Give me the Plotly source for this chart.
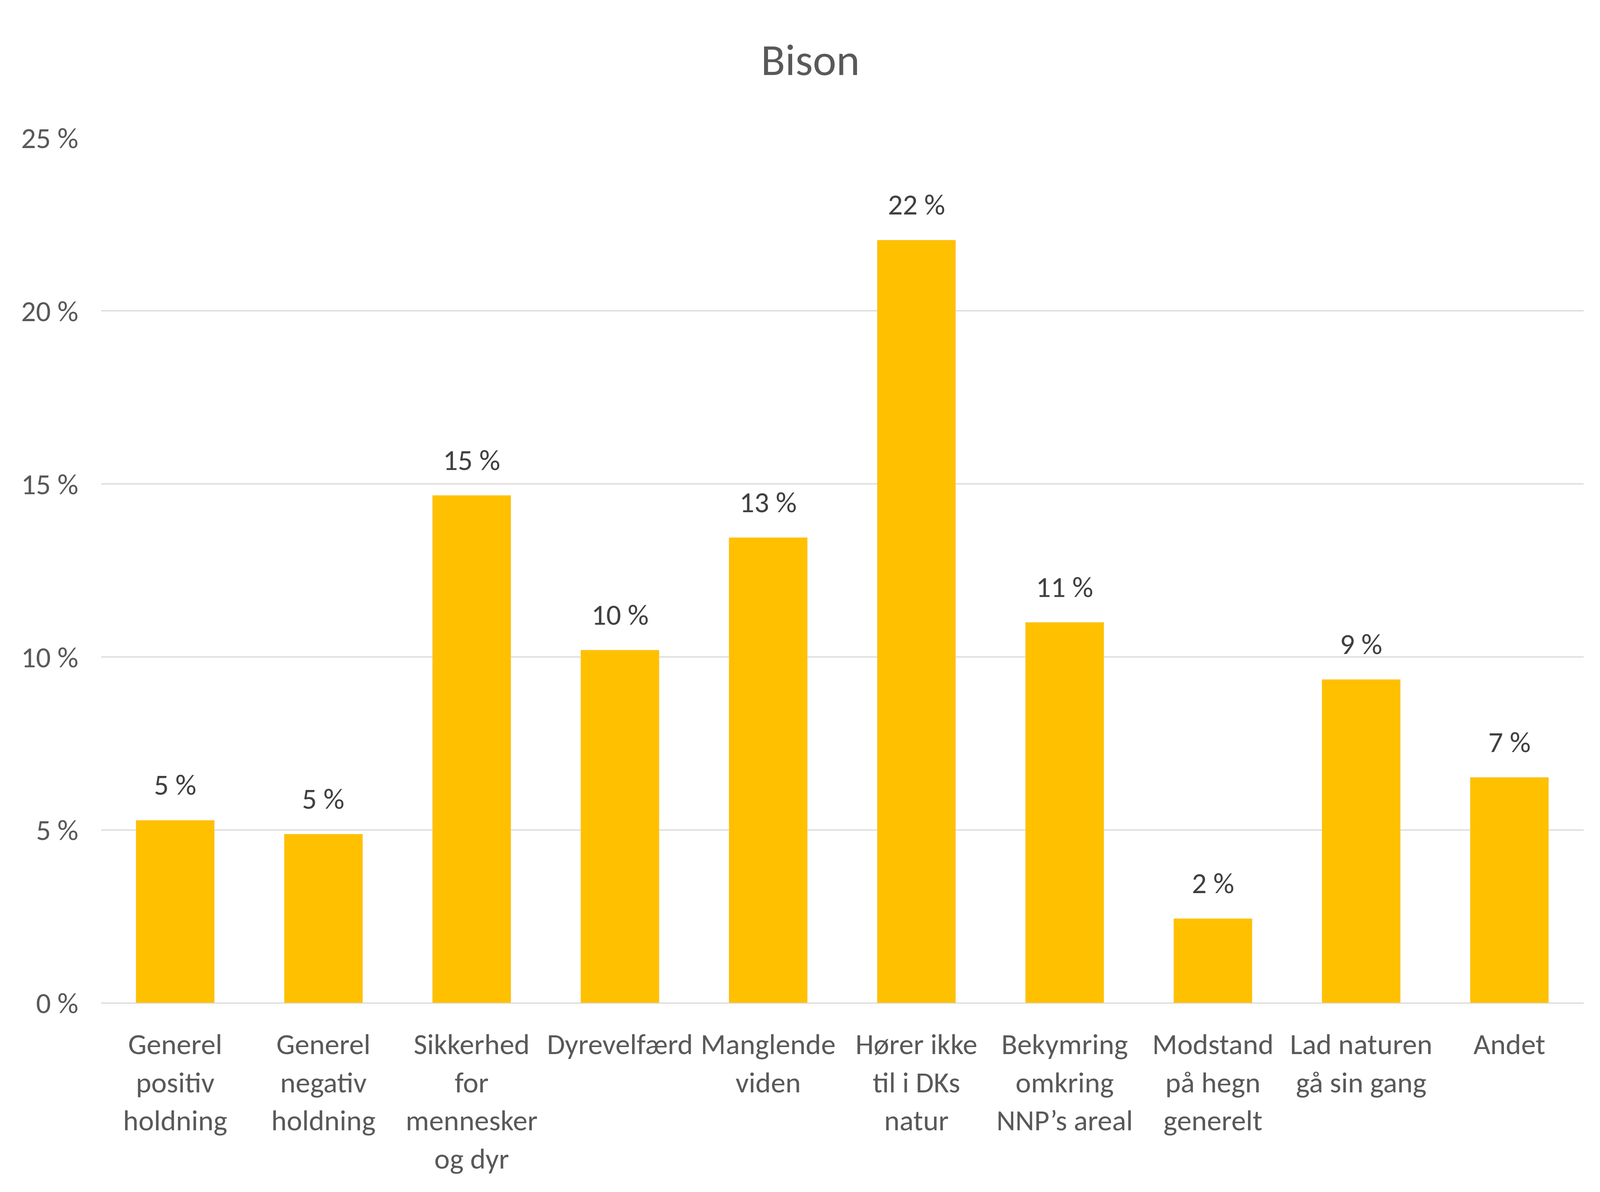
import plotly.graph_objects as go

categories = ["Generel positiv holdning", "Generel negativ holdning",
              "Sikkerhed for mennesker og dyr", "Dyrevelfærd", "Manglende viden",
              "Hører ikke til i DKs natur", "Bekymring omkring NNP’s areal",
              "Modstand på hegn generelt", "Lad naturen gå sin gang", "Andet"]
tick_labels = ["Generel<br>positiv<br>holdning", "Generel<br>negativ<br>holdning",
               "Sikkerhed<br>for<br>mennesker<br>og dyr", "Dyrevelfærd", "Manglende<br>viden",
               "Hører ikke<br>til i DKs<br>natur", "Bekymring<br>omkring<br>NNP’s areal",
               "Modstand<br>på hegn<br>generelt", "Lad naturen<br>gå sin gang", "Andet"]
values = [5.28, 4.88, 14.67, 10.2, 13.45, 22.05, 11.0, 2.44, 9.35, 6.52]
y_ticks = [0, 5, 10, 15, 20, 25]
y_tick_labels = ["0 %", "5 %", "10 %", "15 %", "20 %", "25 %"]

FONT = "Carlito, Lato, sans-serif"
REF_W, REF_H = 4656, 3051

fig = go.Figure()
fig.add_trace(go.Bar(x=categories, y=values, marker_color="#FFC000",
                     width=0.53, showlegend=False))

for c, v in zip(categories, values):
    fig.add_annotation(x=c, y=v, text=f"{v:.0f} %", showarrow=False,
                       yanchor="bottom", yshift=43,
                       font=dict(family=FONT, size=75, color="#404040"))

fig.update_layout(
    autosize=True,
    paper_bgcolor="white", plot_bgcolor="white",
    margin=dict(l=0, r=0, t=0, b=0, pad=0),
    title=dict(text="Bison", x=2349 / REF_W, xref="container", xanchor="center",
               y=1 - 144 / REF_H, yref="container", yanchor="middle",
               font=dict(family=FONT, size=114, color="#595959")),
    bargap=0.47,
)
fig.update_xaxes(domain=[285 / REF_W, 4599 / REF_W], automargin=False,
                 tickvals=categories, ticktext=tick_labels, showgrid=False,
                 showline=False, zeroline=False,
                 tickfont=dict(family=FONT, size=75, color="#595959"),
                 ticks="outside", ticklen=40, tickcolor="rgba(0,0,0,0)")
fig.update_yaxes(domain=[492 / REF_H, 1 - 345 / REF_H], automargin=False,
                 range=[0, 25], tickvals=y_ticks, ticktext=y_tick_labels,
                 showgrid=True, gridcolor="#D9D9D9", gridwidth=3,
                 zeroline=True, zerolinecolor="#D9D9D9", zerolinewidth=3,
                 showline=False,
                 tickfont=dict(family=FONT, size=75, color="#595959"),
                 ticks="outside", ticklen=42, tickcolor="rgba(0,0,0,0)")

fig.write_html("out.html", default_width="100vw", default_height="100vh",
               config={"responsive": True})
